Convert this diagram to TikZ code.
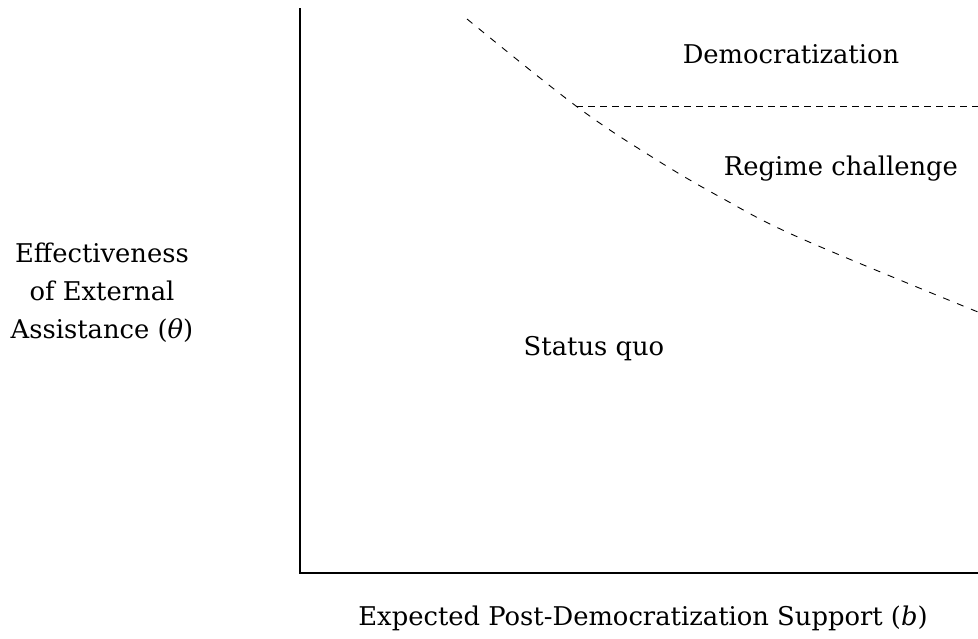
\documentclass[tikz,border=0pt]{standalone}
\usepackage{fontspec}
\setmainfont{DejaVu Serif}
\begin{document}
\begin{tikzpicture}[x=1pt,y=-1pt,
  lbl/.style={font=\fontsize{25.8}{38}\selectfont, inner sep=0pt, anchor=base},
  axisline/.style={line width=1.5pt},
  bound/.style={line width=0.9pt, dash pattern=on 7pt off 8pt},
  hbound/.style={line width=0.9pt, dash pattern=on 7pt off 5pt}]
\useasboundingbox (0,0) rectangle (978,638);
\coordinate (top) at (300,8);
\coordinate (origin) at (300,573);
\coordinate (right) at (978,573);
\draw[axisline] (top) -- (origin) -- (right);
\coordinate (c0) at (467,19);
\coordinate (kink) at (576,106);
\coordinate (hend) at (978,106);
\draw[bound] plot[smooth, tension=0.6] coordinates {(c0) (kink) (652,157) (720,197) (800,238) (978,312)};
\draw[hbound] (kink) -- (hend);
\node[lbl] (dem) at (791,63) {Democratization};
\node[lbl] (reg) at (841,175) {Regime challenge};
\node[lbl] (sq) at (594,355) {Status quo};
\node[lbl] (ylab1) at (102,262) {Effectiveness};
\node[lbl] (ylab2) at (102,300) {of External};
\node[lbl] (ylab3) at (102,338) {Assistance ({\itshape θ})};
\node[lbl] (xlab) at (643,625) {Expected Post-Democratization Support ({\itshape b})};
\end{tikzpicture}
\end{document}
